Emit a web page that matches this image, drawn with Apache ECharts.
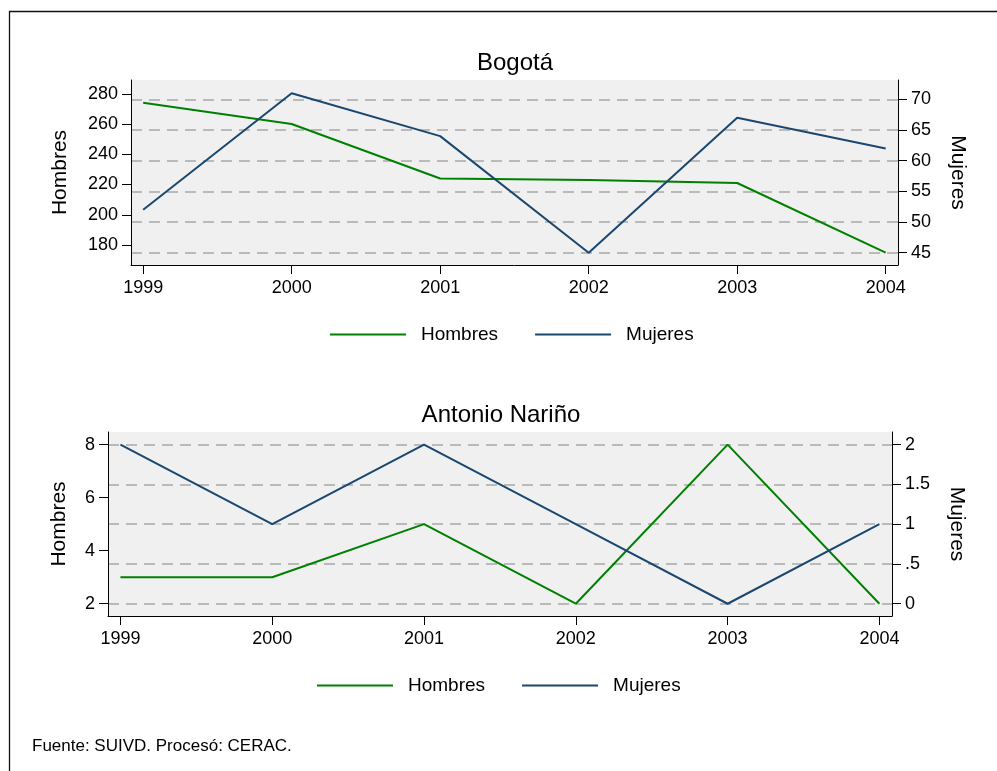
<!DOCTYPE html>
<html><head><meta charset="utf-8">
<script src="https://cdn.jsdelivr.net/npm/echarts@6/dist/echarts.min.js"></script>
<style>html,body{margin:0;padding:0;background:#fff}#c{width:997px;height:771px}</style>
</head><body><div id="c"></div>
<script>
const years = [1999, 2000, 2001, 2002, 2003, 2004];
const bogotaHombres = [274, 260, 224, 223, 221, 175];
const bogotaMujeres = [52, 71, 64, 45, 67, 62];
const narinoHombres = [3, 3, 5, 2, 8, 2];
const narinoMujeres = [2, 1, 2, 1, 0, 1];
const bogotaLeftTicks = [180, 200, 220, 240, 260, 280];
const bogotaRightTicks = [45, 50, 55, 60, 65, 70];
const narinoLeftTicks = [2, 4, 6, 8];
const narinoRightTicks = [0, 0.5, 1, 1.5, 2];
const titles = ['Bogotá', 'Antonio Nariño'];
const seriesNames = ['Hombres', 'Mujeres'];
const axisNames = ['Hombres', 'Mujeres'];
const footnote = 'Fuente: SUIVD. Procesó: CERAC.';

const FONT = '"Liberation Sans", Arial, sans-serif';
const GREEN = '#008000', NAVY = '#1a476f';
const chart = echarts.init(document.getElementById('c'), null, {renderer: 'canvas'});

function xAx(grid) {
  return {
    type: 'value', gridIndex: grid, min: 1998.918, max: 2004.083,
    axisLine: {show: true, onZero: false, lineStyle: {color: '#000', width: 1}},
    axisTick: {show: true, length: 9, customValues: years, lineStyle: {color: '#000'}},
    axisLabel: {customValues: years, color: '#000', fontSize: 18, margin: 14, formatter: v => String(v)},
    splitLine: {show: false}
  };
}
function yAx(grid, pos, min, max, ticks, name, gap, rot, grid_lines, fmt) {
  return {
    type: 'value', gridIndex: grid, position: pos, min: min, max: max,
    name: name, nameLocation: 'middle', nameGap: gap, nameRotate: rot,
    nameTextStyle: {color: '#000', fontSize: 21},
    axisLine: {show: true, onZero: false, lineStyle: {color: '#000', width: 1}},
    axisTick: {show: true, length: 9, customValues: ticks, lineStyle: {color: '#000'}},
    axisLabel: {customValues: ticks, color: '#000', fontSize: 18, margin: 13, formatter: fmt || (v => String(v))},
    splitLine: {show: grid_lines, lineStyle: {color: '#a8a8a8', width: 1.5, type: [11, 7]}}
  };
}
function legendAt(left, top) {
  return {
    left: left, top: top, orient: 'horizontal', icon: 'rect', padding: 0,
    itemWidth: 76, itemHeight: 2, itemGap: 37,
    textStyle: {color: '#000', fontSize: 19, padding: [0, 0, 0, 10]},
    data: seriesNames
  };
}

const option = {
  animation: false,
  backgroundColor: '#fff',
  textStyle: {fontFamily: FONT},
  title: [
    {text: titles[0], left: 515, textAlign: 'center', top: 51, padding: 0, textStyle: {fontSize: 24, fontWeight: 'normal', color: '#000'}},
    {text: titles[1], left: 501, textAlign: 'center', top: 403, padding: 0, textStyle: {fontSize: 24, fontWeight: 'normal', color: '#000'}},
    {text: footnote, left: 32, top: 738, padding: 0, textStyle: {fontSize: 17, fontWeight: 'normal', color: '#000'}}
  ],
  legend: [legendAt(330, 325), legendAt(317, 676)],
  grid: [
    {left: 131, top: 80, width: 767, height: 185, show: true, backgroundColor: '#f0f0f0', borderWidth: 0},
    {left: 108, top: 432, width: 784, height: 184, show: true, backgroundColor: '#f0f0f0', borderWidth: 0}
  ],
  xAxis: [xAx(0), xAx(1)],
  yAxis: [
    yAx(0, 'left', 166.8, 289.1, bogotaLeftTicks, axisNames[0], 60, 90, false),
    yAx(0, 'right', 43.0, 73.15, bogotaRightTicks, axisNames[1], 49, -90, true),
    yAx(1, 'left', 1.537, 8.475, narinoLeftTicks, axisNames[0], 38, 90, false),
    yAx(1, 'right', -0.154, 2.158, narinoRightTicks, axisNames[1], 54, -90, true,
        v => (v === 0.5 ? '.5' : String(v)))
  ],
  series: [
    {name: seriesNames[0], type: 'line', xAxisIndex: 0, yAxisIndex: 0, symbol: 'none',
     lineStyle: {color: GREEN, width: 2}, itemStyle: {color: GREEN},
     data: years.map((y, i) => [y, bogotaHombres[i]])},
    {name: seriesNames[1], type: 'line', xAxisIndex: 0, yAxisIndex: 1, symbol: 'none',
     lineStyle: {color: NAVY, width: 2}, itemStyle: {color: NAVY},
     data: years.map((y, i) => [y, bogotaMujeres[i]])},
    {name: seriesNames[0], type: 'line', xAxisIndex: 1, yAxisIndex: 2, symbol: 'none',
     lineStyle: {color: GREEN, width: 2}, itemStyle: {color: GREEN},
     data: years.map((y, i) => [y, narinoHombres[i]])},
    {name: seriesNames[1], type: 'line', xAxisIndex: 1, yAxisIndex: 3, symbol: 'none',
     lineStyle: {color: NAVY, width: 2}, itemStyle: {color: NAVY},
     data: years.map((y, i) => [y, narinoMujeres[i]])}
  ],
  graphic: [
    {type: 'polyline', silent: true, shape: {points: [[9.5, 771], [9.5, 11.5], [997, 11.5]]},
     style: {stroke: '#111', lineWidth: 1.3, fill: null}}
  ]
};
chart.setOption(option);
</script></body></html>
